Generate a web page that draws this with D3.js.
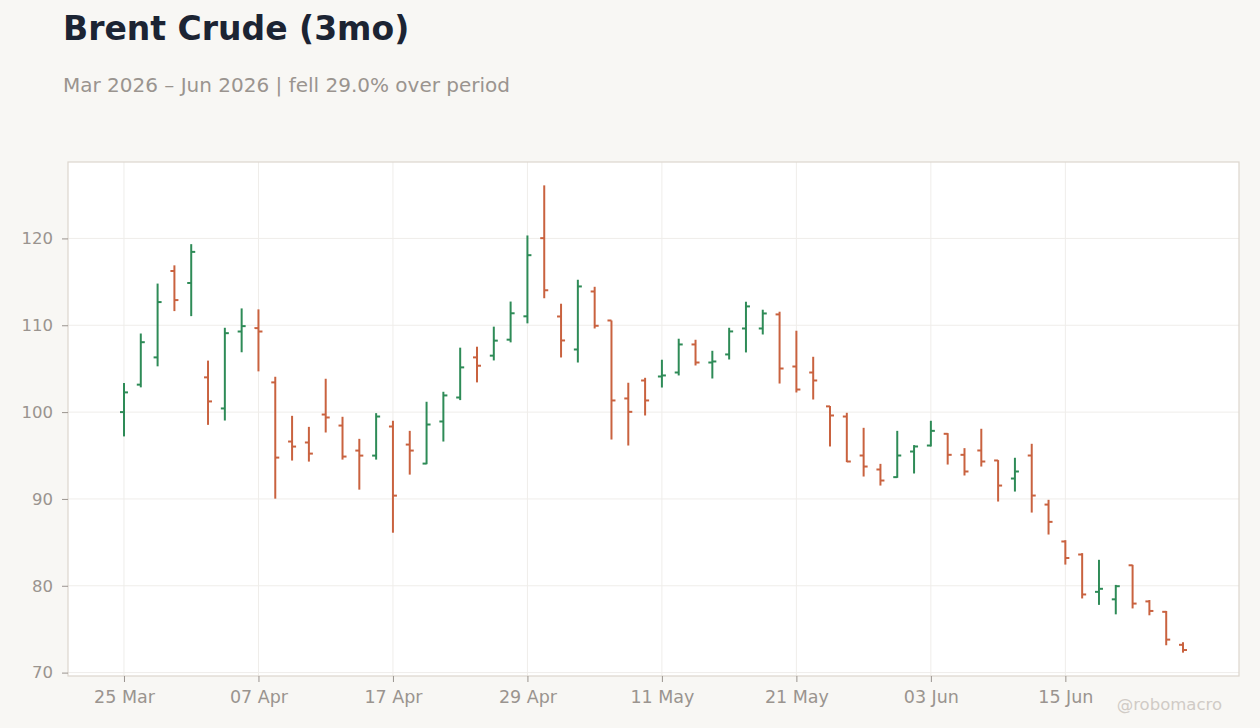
<!DOCTYPE html>
<html>
<head>
<meta charset="utf-8">
<script src="https://cdn.jsdelivr.net/npm/d3@7"></script>
<title>Brent Crude (3mo)</title>
<style>
    body { margin: 0; background: #f8f7f4; font-family: "DejaVu Sans", sans-serif; }
    .tick text { fill: #9a948f; }
</style>
</head>
<body>
<svg id="chart" width="1260" height="728"></svg>
<script>
    // trading days, one per bar
    var dates = [
        "2026-03-25", "2026-03-26", "2026-03-27", "2026-03-30", "2026-03-31", "2026-04-01", "2026-04-02",
        "2026-04-06", "2026-04-07", "2026-04-08", "2026-04-09", "2026-04-10",
        "2026-04-13", "2026-04-14", "2026-04-15", "2026-04-16", "2026-04-17",
        "2026-04-20", "2026-04-21", "2026-04-22", "2026-04-23", "2026-04-24",
        "2026-04-27", "2026-04-28", "2026-04-29", "2026-04-30", "2026-05-01",
        "2026-05-04", "2026-05-05", "2026-05-06", "2026-05-07", "2026-05-08",
        "2026-05-11", "2026-05-12", "2026-05-13", "2026-05-14", "2026-05-15",
        "2026-05-18", "2026-05-19", "2026-05-20", "2026-05-21", "2026-05-22",
        "2026-05-26", "2026-05-27", "2026-05-28", "2026-05-29",
        "2026-06-01", "2026-06-02", "2026-06-03", "2026-06-04", "2026-06-05",
        "2026-06-08", "2026-06-09", "2026-06-10", "2026-06-11", "2026-06-12",
        "2026-06-15", "2026-06-16", "2026-06-17", "2026-06-18",
        "2026-06-22", "2026-06-23", "2026-06-24", "2026-06-25"
    ]

    var open = [100.0, 103.16, 106.3, 116.25, 114.87, 104.0, 100.42, 109.28, 109.67, 103.42,
        96.61, 96.5, 99.72, 98.45, 95.57, 94.99, 98.34, 96.26, 94.07, 98.92,
        101.68, 106.3, 106.5, 108.34, 111.03, 120.03, 111.01, 107.21, 113.89, 110.55,
        101.57, 103.64, 104.1, 104.56, 107.79, 105.71, 106.64, 109.63, 109.63, 111.25,
        105.25, 104.56, 100.66, 99.49, 95.0, 93.39, 92.51, 95.46, 96.15, 97.5,
        95.08, 95.58, 94.43, 92.35, 95.0, 89.35, 85.1, 83.6, 79.3, 78.44,
        82.36, 78.2, 77.0, 73.2]

    var high = [103.35, 109.05, 114.8, 116.9, 119.34, 105.93, 109.71, 111.94, 111.83, 104.07,
        99.57, 98.3, 103.84, 99.46, 96.92, 99.88, 99.0, 97.84, 101.19, 102.34,
        107.42, 107.53, 109.84, 112.73, 120.34, 126.11, 112.48, 115.24, 114.43, 110.55,
        103.38, 103.95, 106.03, 108.45, 108.33, 107.06, 109.71, 112.71, 111.79, 111.56,
        109.37, 106.37, 100.7, 99.92, 98.19, 94.04, 97.84, 96.2, 99.0, 97.58,
        95.85, 98.08, 94.47, 94.74, 96.35, 89.9, 85.25, 83.76, 82.99, 80.1,
        82.41, 78.36, 77.1, 73.5]

    var low = [97.2, 102.85, 105.27, 111.63, 111.05, 98.53, 99.03, 106.89, 104.69, 90.03,
        94.42, 94.3, 97.65, 94.53, 91.07, 94.53, 86.11, 92.8, 94.0, 96.61,
        101.38, 103.42, 105.95, 108.03, 110.22, 113.11, 106.29, 105.71, 109.63, 96.84,
        96.15, 99.61, 102.83, 104.22, 105.37, 103.87, 106.06, 106.87, 108.94, 103.29,
        102.26, 101.45, 96.04, 94.24, 92.58, 91.54, 92.43, 92.93, 96.04, 93.96,
        92.7, 93.73, 89.7, 90.85, 88.43, 85.9, 82.44, 78.54, 77.8, 76.71,
        77.39, 76.6, 73.15, 72.3]

    var close = [102.27, 108.05, 112.67, 112.9, 118.45, 101.23, 109.09, 109.9, 109.28, 94.76,
        96.03, 95.22, 99.38, 94.88, 94.99, 99.49, 90.38, 95.57, 98.57, 101.92,
        105.15, 105.34, 108.23, 111.38, 118.07, 114.03, 108.25, 114.47, 109.94, 101.34,
        100.03, 101.34, 104.22, 107.79, 105.71, 105.83, 109.29, 112.17, 111.36, 105.02,
        102.6, 103.64, 99.61, 94.31, 93.73, 92.12, 95.0, 96.04, 97.84, 95.08,
        93.16, 94.31, 91.54, 93.16, 90.39, 87.36, 83.2, 79.0, 79.65, 79.95,
        77.95, 77.1, 73.8, 72.6]

    var upColor = "#2e8b57"
    var downColor = "#c9623f"

    margin = ({ top: 162, right: 21, bottom: 52, left: 68 })
    width = 1260 - margin.left - margin.right
    height = 728 - margin.top - margin.bottom

    var parse = d3.timeParse("%Y-%m-%d")
    var bars = dates.map(function (d, i) {
        return { date: parse(d), o: open[i], h: high[i], l: low[i], c: close[i] }
    })

    var svg = d3.select("#chart")

    // title + subtitle
    var change = (close[close.length - 1] / close[0] - 1) * 100
    var fmtMonth = d3.timeFormat("%b %Y")
    svg.append("text")
        .attr("x", 63).attr("y", 40)
        .attr("font-size", 33).attr("font-weight", "bold")
        .attr("fill", "#1c2433")
        .text("Brent Crude (3mo)")
    svg.append("text")
        .attr("x", 63).attr("y", 92)
        .attr("font-size", 20)
        .attr("fill", "#9a948f")
        .text(fmtMonth(bars[0].date) + " \u2013 " + fmtMonth(bars[bars.length - 1].date) + " | " +
            (change < 0 ? "fell " : "rose ") + Math.abs(change).toFixed(1) + "% over period")

    var g = svg.append("g").attr("transform", `translate(${margin.left}, ${margin.top})`)

    g.append("rect")
        .attr("width", width).attr("height", height)
        .attr("fill", "#fff")

    var x = d3.scalePoint()
        .domain(d3.range(bars.length))
        .range([0, width])
        .padding(3.33)

    var lo = d3.min(low), hi = d3.max(high), pad = (hi - lo) * 0.05
    var y = d3.scaleLinear()
        .domain([lo - pad, hi + pad])
        .range([height, 0])

    var tickIdx = d3.range(0, bars.length, 8)
    var yTicks = y.ticks(6)

    // grid
    g.append("g").selectAll("line")
        .data(yTicks).enter().append("line")
        .attr("x1", 0).attr("x2", width)
        .attr("y1", d => y(d)).attr("y2", d => y(d))
        .attr("stroke", "#efedea").attr("stroke-width", 1)
    g.append("g").selectAll("line")
        .data(tickIdx).enter().append("line")
        .attr("x1", d => x(d)).attr("x2", d => x(d))
        .attr("y1", 0).attr("y2", height)
        .attr("stroke", "#efedea").attr("stroke-width", 1)

    g.append("rect")
        .attr("width", width).attr("height", height)
        .attr("fill", "none").attr("stroke", "#ddd6ce").attr("stroke-width", 1.2)

    // axes
    var fmtTick = d3.timeFormat("%d %b")
    var xAxis = g.append("g")
        .attr("transform", `translate(0, ${height})`)
        .call(d3.axisBottom(x).tickValues(tickIdx).tickSize(6).tickPadding(9)
            .tickFormat(i => fmtTick(bars[i].date)))
    xAxis.select(".domain").remove()
    xAxis.selectAll(".tick line").attr("stroke", "#9a948f")
    xAxis.selectAll(".tick text").attr("font-size", 17.5).attr("font-family", "DejaVu Sans")

    var yAxis = g.append("g")
        .call(d3.axisLeft(y).tickValues(yTicks).tickSize(6).tickPadding(9))
    yAxis.select(".domain").remove()
    yAxis.selectAll(".tick line").attr("stroke", "#9a948f")
    yAxis.selectAll(".tick text").attr("font-size", 16.5).attr("font-family", "DejaVu Sans")

    // OHLC bars
    var bar = g.append("g").selectAll("g")
        .data(bars).enter().append("g")
        .attr("stroke", d => d.c >= d.o ? upColor : downColor)
        .attr("stroke-width", 2)

    bar.append("line")
        .attr("x1", (d, i) => x(i)).attr("x2", (d, i) => x(i))
        .attr("y1", d => y(d.h)).attr("y2", d => y(d.l))
    bar.append("line")
        .attr("x1", (d, i) => x(i) - 4).attr("x2", (d, i) => x(i))
        .attr("y1", d => y(d.o)).attr("y2", d => y(d.o))
    bar.append("line")
        .attr("x1", (d, i) => x(i)).attr("x2", (d, i) => x(i) + 4)
        .attr("y1", d => y(d.c)).attr("y2", d => y(d.c))

    svg.append("text")
        .attr("x", 1222).attr("y", 710)
        .attr("text-anchor", "end")
        .attr("font-size", 16.5)
        .attr("fill", "#d0cbc6")
        .text("@robomacro")
</script>
</body>
</html>
